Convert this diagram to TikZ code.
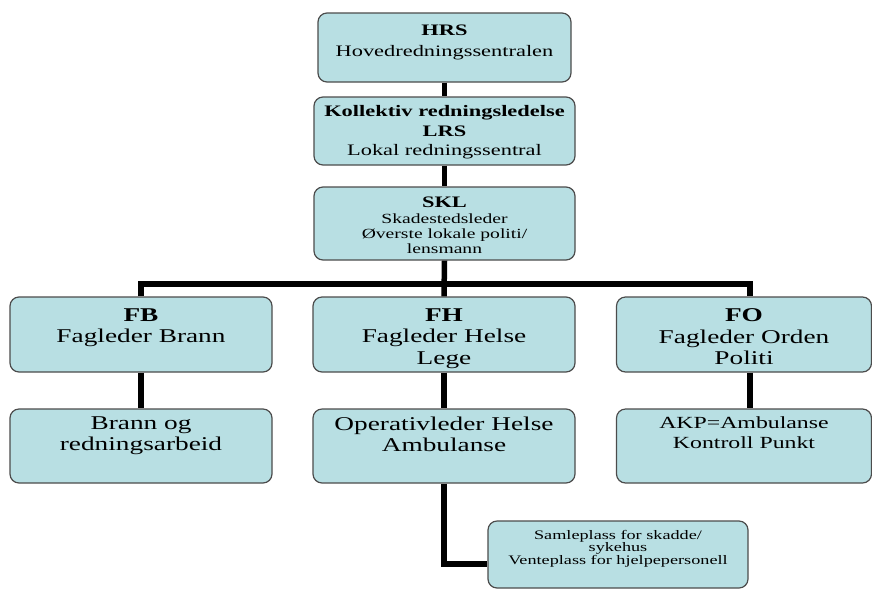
\documentclass[tikz,border=0pt]{standalone}
\usepackage{fontspec}
\setmainfont{Liberation Serif}[FakeStretch=1.4]
\definecolor{boxfill}{RGB}{184,223,227}

\begin{document}
\begin{tikzpicture}[x=1pt, y=-1pt,
    box/.style={draw=black!70, line width=1.2pt, fill=boxfill, rounded corners=9pt, inner sep=0pt},
    lbl/.style={align=center, inner sep=0pt, anchor=north},
    link/.style={line width=5.5pt}]
  \useasboundingbox (0,0) rectangle (872,590);

  % Top chain
  \node[box, minimum width=253pt, minimum height=69pt] (hrs) at (444.5,47.5) {};
  \node[box, minimum width=261pt, minimum height=68pt] (lrs) at (444.5,131) {};
  \node[box, minimum width=261pt, minimum height=73pt] (skl) at (444.5,223.5) {};

  % Fagledere and their units
  \foreach \name/\cx/\w in {fb/141/262, fh/444/262, fo/744/255} {
    \node[box, minimum width=\w pt, minimum height=75pt] (\name) at (\cx,334.5) {};
    \node[box, minimum width=\w pt, minimum height=74pt] (\name u) at (\cx,446) {};
  }
  \node[box, minimum width=260pt, minimum height=67pt] (samle) at (618,554.5) {};

  % Connectors
  \draw[link] (hrs.south) -- (lrs.north);
  \draw[link] (lrs.south) -- (skl.north);
  \draw[link] (skl.south) -- (fh.north);
  \coordinate (bar) at (444,284);
  \draw[link] (fb.north) |- (bar) -| ([xshift=6pt]fo.north);
  \draw[link] (fb.south) -- (fbu.north);
  \draw[link] (fh.south) -- (fhu.north);
  \draw[link] ([xshift=6pt]fo.south) -- ([xshift=6pt]fou.north);
  \draw[link] (fhu.south) |- ([yshift=-9.5pt]samle.west);

  % Texts
  \node[lbl, font=\fontsize{16}{21.7}\selectfont] (hrs t) at ([yshift=-12pt]hrs.north)
    {\textbf{HRS}\\Hovedredningssentralen};
  \node[lbl, font=\fontsize{16}{19.5}\selectfont] (lrs t) at ([yshift=-9pt]lrs.north)
    {\textbf{Kollektiv redningsledelse}\\\textbf{LRS}\\Lokal redningssentral};
  \node[lbl, font=\fontsize{14}{15.3}\selectfont] (skl t) at ([yshift=-10.5pt]skl.north)
    {{\fontsize{16}{15.3}\selectfont\textbf{SKL}}\\Skadestedsleder\\Øverste lokale politi/\\lensmann};
  \node[lbl, font=\fontsize{19.5}{21.5}\selectfont] (fb t) at ([yshift=-12pt]fb.north)
    {\textbf{FB}\\Fagleder Brann};
  \node[lbl, font=\fontsize{19.5}{21.5}\selectfont] (fh t) at ([yshift=-12pt]fh.north)
    {\textbf{FH}\\Fagleder Helse\\Lege};
  \node[lbl, font=\fontsize{19.5}{21.5}\selectfont] (fo t) at ([yshift=-12pt]fo.north)
    {\textbf{FO}\\Fagleder Orden\\Politi};
  \node[lbl, font=\fontsize{19.5}{21}\selectfont] (fbu t) at ([yshift=-8pt]fbu.north)
    {Brann og\\redningsarbeid};
  \node[lbl, font=\fontsize{19.5}{21}\selectfont] (fhu t) at ([yshift=-8pt]fhu.north)
    {Operativleder Helse\\Ambulanse};
  \node[lbl, font=\fontsize{17}{20}\selectfont] (fou t) at ([yshift=-8pt]fou.north)
    {AKP=Ambulanse\\Kontroll Punkt};
  \node[lbl, font=\fontsize{13}{12.6}\selectfont] (samle t) at ([yshift=-9.5pt]samle.north)
    {Samleplass for skadde/\\sykehus\\Venteplass for hjelpepersonell};
\end{tikzpicture}
\end{document}
